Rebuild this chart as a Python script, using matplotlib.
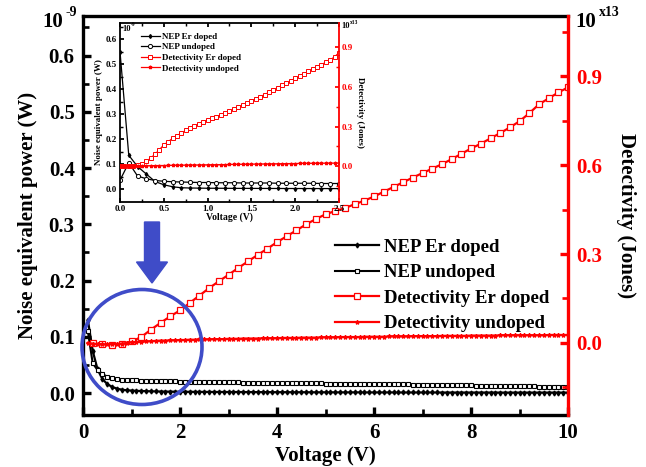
import matplotlib
matplotlib.use('Agg')
import matplotlib.pyplot as plt
import matplotlib.patches as mpatches
import numpy as np

plt.rcParams['font.family'] = ['Liberation Serif', 'DejaVu Serif']
plt.rcParams['font.weight'] = 'bold'

# ---- main panel data (NEP in 1e-9 W, detectivity in 1e13 Jones) ----
v_main = np.round(np.arange(1, 101) * 0.1, 1)
v_main_det = np.round(np.arange(1, 51) * 0.2, 1)

nep_doped = [
    0.130, 0.075, 0.042, 0.025, 0.016, 0.011, 0.008, 0.006, 0.005, 0.0045,
    0.0040, 0.0037, 0.0034, 0.0032, 0.0030, 0.0028, 0.0027, 0.0026, 0.0025, 0.0024,
    0.0023, 0.0023, 0.0022, 0.0022, 0.0021, 0.0021, 0.0020, 0.0020, 0.0020, 0.0019,
    0.0019, 0.0019, 0.0018, 0.0018, 0.0018, 0.0017, 0.0017, 0.0017, 0.0016, 0.0016,
    0.0016, 0.0016, 0.0015, 0.0015, 0.0015, 0.0015, 0.0014, 0.0014, 0.0014, 0.0014,
    0.0014, 0.0013, 0.0013, 0.0013, 0.0013, 0.0013, 0.0013, 0.0012, 0.0012, 0.0012,
    0.0012, 0.0012, 0.0012, 0.0012, 0.0011, 0.0011, 0.0011, 0.0011, 0.0011, 0.0011,
    0.0011, 0.0011, 0.0011, 0.0010, 0.0010, 0.0010, 0.0010, 0.0010, 0.0010, 0.0010,
    0.0010, 0.0010, 0.0010, 0.0010, 0.0010, 0.0009, 0.0009, 0.0009, 0.0009, 0.0009,
    0.0009, 0.0009, 0.0009, 0.0009, 0.0009, 0.0009, 0.0009, 0.0009, 0.0009, 0.0009,
]
nep_undoped = [
    0.110, 0.053, 0.041, 0.034, 0.029, 0.026, 0.025, 0.024, 0.023, 0.023,
    0.0225, 0.0220, 0.0220, 0.0218, 0.0215, 0.0213, 0.0210, 0.0210, 0.0208, 0.0205,
    0.0203, 0.0200, 0.0200, 0.0198, 0.0197, 0.0196, 0.0195, 0.0194, 0.0193, 0.0192,
    0.0190, 0.0189, 0.0188, 0.0187, 0.0186, 0.0185, 0.0184, 0.0183, 0.0182, 0.0180,
    0.0179, 0.0178, 0.0177, 0.0176, 0.0175, 0.0174, 0.0173, 0.0172, 0.0171, 0.0170,
    0.0169, 0.0168, 0.0167, 0.0166, 0.0165, 0.0164, 0.0163, 0.0162, 0.0161, 0.0160,
    0.0159, 0.0158, 0.0157, 0.0156, 0.0155, 0.0154, 0.0153, 0.0152, 0.0151, 0.0150,
    0.0148, 0.0147, 0.0146, 0.0144, 0.0143, 0.0142, 0.0140, 0.0139, 0.0137, 0.0135,
    0.0134, 0.0133, 0.0131, 0.0130, 0.0129, 0.0127, 0.0126, 0.0125, 0.0123, 0.0122,
    0.0121, 0.0120, 0.0118, 0.0117, 0.0116, 0.0115, 0.0114, 0.0112, 0.0111, 0.0110,
]
det_doped = [
    0.000, -0.005, -0.006, -0.003, 0.005, 0.020, 0.045, 0.068, 0.090, 0.110,
    0.135, 0.160, 0.185, 0.208, 0.230, 0.253, 0.275, 0.297, 0.318, 0.340,
    0.360, 0.380, 0.400, 0.418, 0.434, 0.445, 0.455, 0.468, 0.480, 0.494,
    0.510, 0.526, 0.542, 0.558, 0.573, 0.588, 0.603, 0.620, 0.638, 0.656,
    0.672, 0.690, 0.708, 0.727, 0.748, 0.775, 0.805, 0.825, 0.845, 0.862,
]
det_undoped = [
    0.000, -0.002, -0.004, -0.005, -0.005, -0.004, -0.003, -0.002, 0.000, 0.002,
    0.003, 0.004, 0.005, 0.006, 0.007, 0.008, 0.008, 0.009, 0.009, 0.010,
    0.010, 0.011, 0.011, 0.012, 0.012, 0.012, 0.013, 0.013, 0.013, 0.014,
    0.014, 0.014, 0.015, 0.015, 0.015, 0.015, 0.016, 0.016, 0.016, 0.016,
    0.017, 0.017, 0.017, 0.017, 0.018, 0.018, 0.018, 0.018, 0.019, 0.019,
    0.019, 0.019, 0.020, 0.020, 0.020, 0.020, 0.020, 0.021, 0.021, 0.021,
    0.021, 0.021, 0.022, 0.022, 0.022, 0.022, 0.022, 0.023, 0.023, 0.023,
    0.023, 0.023, 0.023, 0.024, 0.024, 0.024, 0.024, 0.024, 0.024, 0.025,
    0.025, 0.025, 0.025, 0.025, 0.025, 0.026, 0.026, 0.026, 0.026, 0.026,
    0.026, 0.026, 0.026, 0.026, 0.026, 0.027, 0.027, 0.027, 0.027, 0.027,
]

# ---- inset data (0 - 2.5 V) ----
v_inset = np.round(np.arange(0, 26) * 0.1, 2)
v_inset_det = np.round(np.arange(0, 51) * 0.05, 2)

nep_doped_in = [
    0.550, 0.135, 0.090, 0.060, 0.030, 0.017, 0.009, 0.005, 0.004, 0.0035,
    0.0030, 0.0030, 0.0028, 0.0026, 0.0025, 0.0024, 0.0023, 0.0022, 0.0021, 0.0020,
    0.0020, 0.0019, 0.0018, 0.0018, 0.0017, 0.0017,
]
nep_undoped_in = [
    0.035, 0.105, 0.052, 0.041, 0.034, 0.031, 0.029, 0.028, 0.027, 0.026,
    0.026, 0.025, 0.025, 0.025, 0.024, 0.024, 0.024, 0.024, 0.023, 0.023,
    0.023, 0.023, 0.023, 0.022, 0.022, 0.022,
]
det_doped_in = [
    0.000, 0.000, 0.000, 0.002, 0.005, 0.015, 0.035, 0.060, 0.090, 0.125,
    0.160, 0.185, 0.210, 0.230, 0.250, 0.270, 0.290, 0.305, 0.320, 0.335,
    0.350, 0.362, 0.375, 0.388, 0.400, 0.415, 0.430, 0.448, 0.465, 0.480,
    0.495, 0.510, 0.525, 0.542, 0.560, 0.578, 0.595, 0.612, 0.630, 0.648,
    0.665, 0.682, 0.700, 0.718, 0.735, 0.752, 0.770, 0.788, 0.805, 0.830,
    0.860,
]
det_undoped_in = [
    0.000, 0.000, 0.000, 0.001, 0.001, 0.002, 0.002, 0.003, 0.003, 0.004,
    0.004, 0.005, 0.005, 0.006, 0.006, 0.007, 0.007, 0.008, 0.008, 0.009,
    0.009, 0.010, 0.010, 0.011, 0.011, 0.012, 0.012, 0.013, 0.013, 0.014,
    0.014, 0.015, 0.015, 0.016, 0.016, 0.017, 0.017, 0.018, 0.018, 0.019,
    0.019, 0.020, 0.020, 0.020, 0.021, 0.021, 0.021, 0.022, 0.022, 0.022,
    0.023,
]

labels = ['NEP Er doped', 'NEP undoped', 'Detectivity Er doped', 'Detectivity undoped']
RED = '#ff0000'
BLUE = '#3f4cc8'


def style_axes(a, a2, lw, size, major, minor):
    for s in ['left', 'bottom', 'top']:
        a.spines[s].set_linewidth(lw)
    a.spines['right'].set_visible(False)
    for s in ['left', 'bottom', 'top']:
        a2.spines[s].set_visible(False)
    a2.spines['right'].set_linewidth(lw)
    a2.spines['right'].set_color(RED)
    a.tick_params(which='major', direction='in', length=major, width=lw, labelsize=size)
    a.tick_params(which='minor', direction='in', length=minor, width=lw * 0.8)
    a2.tick_params(which='major', direction='in', length=major, width=lw, labelsize=size,
                   colors=RED)
    a2.tick_params(which='minor', direction='in', length=minor, width=lw * 0.8, colors=RED)


fig = plt.figure(figsize=(6.46, 4.67), dpi=100)

# ---------------- main axes ----------------
ax = fig.add_axes([0.1285, 0.1113, 0.751, 0.854])
ax2 = ax.twinx()

l1, = ax.plot(v_main, nep_doped, color='k', lw=1.6, marker='d', ms=2.5, mfc='k', mec='k')
l2, = ax.plot(v_main, nep_undoped, color='k', lw=1.5, marker='s', ms=3.5, mfc='white', mec='k',
              mew=0.8)
l3, = ax2.plot(v_main_det, det_doped, color=RED, lw=1.6, marker='s', ms=4, mfc='white',
               mec=RED, mew=0.9)
l4, = ax2.plot(v_main, det_undoped, color=RED, lw=1.6, marker='*', ms=3, mfc=RED, mec=RED)

ax.set_xlim(0, 10)
ax.set_ylim(-0.039, 0.67)
ax2.set_ylim(-0.243, 1.102)
ax.set_xticks(np.arange(0, 11, 2))
ax.set_xticks(np.arange(1, 10, 2), minor=True)
ax.set_yticks(np.arange(0, 0.61, 0.1))
ax.set_yticks(np.arange(0.05, 0.66, 0.1), minor=True)
ax.set_yticklabels(['%.1f' % t for t in np.arange(0, 0.61, 0.1)])
ax2.set_yticks([0.0, 0.3, 0.6, 0.9])
ax2.set_yticks([0.15, 0.45, 0.75, 1.05, -0.15], minor=True)
ax2.set_yticklabels(['0.0', '0.3', '0.6', '0.9'])
style_axes(ax, ax2, 2.4, 15, 6, 4)
ax.tick_params(axis='both', pad=6)
ax2.tick_params(axis='y', pad=6)

ax.set_xlabel('Voltage (V)', fontsize=15, fontweight='bold', labelpad=2)
ax.set_ylabel('Noise equivalent power (W)', fontsize=15, fontweight='bold', labelpad=8)
ax2.set_ylabel('Detectivity (Jones)', fontsize=15, fontweight='bold', rotation=270,
               labelpad=24)

ax2.legend([l1, l2, l3, l4], labels, loc='upper left', frameon=False,
           handlelength=2.3, handletextpad=0.3, labelspacing=0.45, borderpad=0,
           bbox_to_anchor=(326 / 646, (467 - 229) / 467), bbox_transform=fig.transFigure,
           prop={'weight': 'bold', 'size': 13.5})

fig.text(42 / 646, 1 - 22 / 467, '10', fontsize=15, fontweight='bold', va='center')
fig.text(66 / 646, 1 - 13 / 467, '-9', fontsize=10, fontweight='bold', va='center')
fig.text(575 / 646, 1 - 22 / 467, '10', fontsize=15, fontweight='bold', va='center')
fig.text(599 / 646, 1 - 12 / 467, 'x13', fontsize=10, fontweight='bold', va='center')

# ---------------- inset ----------------
ins = fig.add_axes([120 / 646, (467 - 202) / 467, 219 / 646, 179 / 467])
ins.set_facecolor('white')
ins2 = ins.twinx()
i1, = ins.plot(v_inset, nep_doped_in, color='k', lw=0.9, marker='d', ms=2, mfc='k', mec='k')
i2, = ins.plot(v_inset, nep_undoped_in, color='k', lw=0.9, marker='o', ms=3, mfc='white',
               mec='k', mew=0.7)
i3, = ins2.plot(v_inset_det, det_doped_in, color=RED, lw=0.9, marker='s', ms=3, mfc='white',
                mec=RED, mew=0.7)
i4, = ins2.plot(v_inset_det, det_undoped_in, color=RED, lw=0.9, marker='*', ms=2.5, mfc=RED,
                mec=RED)
ins.set_xlim(0, 2.5)
ins.set_ylim(-0.052, 0.664)
ins2.set_ylim(-0.273, 1.086)
ins.set_xticks(np.arange(0, 2.51, 0.5))
ins.set_xticklabels(['%.1f' % t for t in np.arange(0, 2.51, 0.5)])
ins.set_xticks(np.arange(0.25, 2.5, 0.5), minor=True)
ins.set_yticks(np.arange(0, 0.61, 0.1))
ins.set_yticklabels(['%.1f' % t for t in np.arange(0, 0.61, 0.1)])
ins.set_yticks(np.arange(0.05, 0.66, 0.1), minor=True)
ins2.set_yticks([0.0, 0.3, 0.6, 0.9])
ins2.set_yticklabels(['0.0', '0.3', '0.6', '0.9'])
ins2.set_yticks([0.15, 0.45, 0.75, -0.15], minor=True)
style_axes(ins, ins2, 1.3, 6.5, 3, 2)
ins.tick_params(which='both', top=True, pad=2)
ins2.tick_params(axis='y', pad=2)
ins.set_xlabel('Voltage (V)', fontsize=7, fontweight='bold', labelpad=0)
ins.set_ylabel('Noise equivalent power (W)', fontsize=6.5, fontweight='bold', labelpad=2)
ins2.set_ylabel('Detectivity (Jones)', fontsize=6.5, fontweight='bold', rotation=270,
                labelpad=8)
ins2.legend([i1, i2, i3, i4], labels, loc='upper left', frameon=False,
            handlelength=2.2, handletextpad=0.2, labelspacing=0.25, borderpad=0,
            bbox_to_anchor=(136 / 646, (467 - 28) / 467), bbox_transform=fig.transFigure,
            prop={'weight': 'bold', 'size': 6.5})
fig.text(122 / 646, 1 - 29 / 467, '10', fontsize=6, fontweight='bold', va='center')
fig.text(131 / 646, 1 - 25 / 467, '-9', fontsize=4, fontweight='bold', va='center')
fig.text(341 / 646, 1 - 26 / 467, '10', fontsize=6, fontweight='bold', va='center')
fig.text(350 / 646, 1 - 22 / 467, 'x13', fontsize=4, fontweight='bold', va='center')

# ---------------- blue annotation ----------------
arrow = mpatches.FancyArrow(1.52, (467 - 222) / 100, 0, -0.61, width=0.15, head_width=0.31,
                            head_length=0.21, length_includes_head=True, color=BLUE,
                            transform=fig.dpi_scale_trans)
circ = mpatches.Ellipse((1.42, (467 - 347) / 100), 1.20, 1.15, fill=False, lw=2.6,
                        edgecolor=BLUE, transform=fig.dpi_scale_trans)
fig.patches.extend([arrow, circ])

fig.savefig('out.png', dpi=100)
